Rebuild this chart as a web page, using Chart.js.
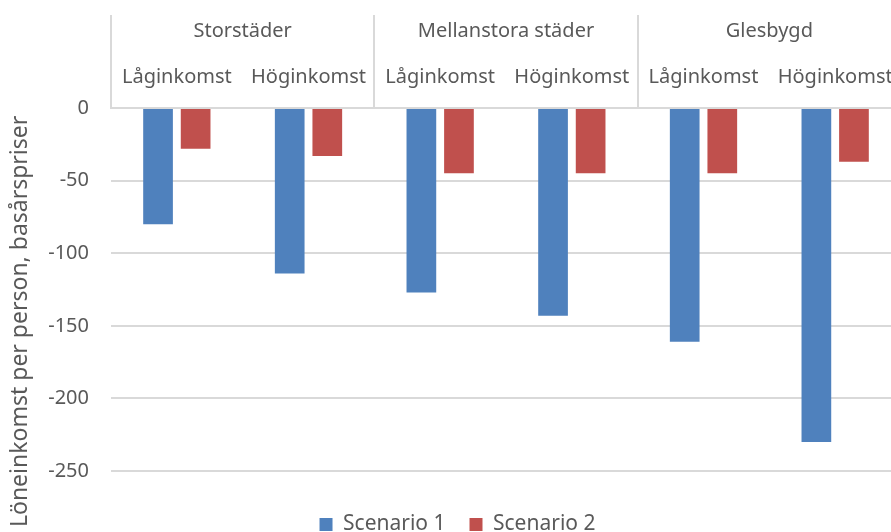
<!DOCTYPE html>
<html>
<head>
<meta charset="utf-8">
<script src="https://cdn.jsdelivr.net/npm/chart.js@4"></script>
<style>
  html, body { margin: 0; padding: 0; background: #fff; overflow: hidden; }
  #wrap { width: 901px; height: 545px; }
</style>
</head>
<body>
<div id="wrap"><canvas id="chart" width="901" height="545"></canvas></div>
<script>
/* ============================================================
   DATA
   ============================================================ */
const GROUPS     = ["Storstäder", "Mellanstora städer", "Glesbygd"];
const INCOME     = ["Låginkomst", "Höginkomst", "Låginkomst", "Höginkomst", "Låginkomst", "Höginkomst"];
const SCENARIO_1 = [-80, -114, -127, -143, -161, -230];
const SCENARIO_2 = [-28, -33, -45, -45, -45, -37];
const Y_TICKS    = { min: -250, max: 0, step: 50 };
const Y_TITLE    = "Löneinkomst per person, basårspriser";

const GRID = "#d9d9d9";
const TXT  = "#595959";

Chart.defaults.font.family = "'Noto Sans', sans-serif";
Chart.defaults.font.size = 20;
Chart.defaults.color = TXT;

/* ============================================================
   CHART
   Two category axes on top: income level (inner), region (outer)
   ============================================================ */
new Chart(document.getElementById("chart"), {
  type: "bar",
  data: {
    labels: INCOME,
    datasets: [
      { label: "Scenario 1", data: SCENARIO_1, backgroundColor: "#4F81BD", borderWidth: 0 },
      { label: "Scenario 2", data: SCENARIO_2, backgroundColor: "#C0504D", borderWidth: 0 },
    ],
  },
  options: {
    responsive: false,
    animation: false,
    categoryPercentage: 0.571,
    barPercentage: 0.79,
    // left padding nudges the centred legend right; title padding compensates
    layout: { padding: { left: 14, right: 0, top: 0, bottom: 0 } },
    plugins: {
      tooltip: { enabled: false },
      title: {
        display: true,
        position: "left",
        align: "start",
        text: "   " + Y_TITLE,
        color: TXT,
        font: { size: 23, weight: "normal" },
        padding: { top: -7.4, bottom: 0 },
      },
      legend: {
        position: "bottom",
        title: { display: true, text: "", padding: 0, font: { size: 10, lineHeight: 1.9 } },
        labels: { boxWidth: 13, boxHeight: 13, padding: 24, color: TXT, font: { size: 21 } },
      },
    },
    scales: {
      x: {
        position: "top",
        weight: 0,
        afterFit: s => { s.height = 53; },
        grid: {
          offset: true,
          drawOnChartArea: false,
          tickLength: 53,
          lineWidth: 2,
          // only draw dividers at region boundaries
          color: c => (c.type !== "tick" || c.index % 2 === 0) ? GRID : "rgba(0,0,0,0)",
        },
        border: { color: GRID, width: 2 },
        ticks: { padding: -34, maxRotation: 0, autoSkip: false },
      },
      x2: {
        type: "category",
        labels: GROUPS,
        position: "top",
        weight: 1,
        offset: true,
        afterFit: s => { s.height = 55; },
        grid: { offset: true, drawOnChartArea: false, tickLength: 40, lineWidth: 2, color: GRID },
        border: { display: false },
        ticks: { padding: -28, maxRotation: 0, autoSkip: false },
      },
      y: {
        min: Y_TICKS.min,
        max: Y_TICKS.max,
        afterFit: s => { s.width = 76.8; },
        grid: { color: GRID, lineWidth: 2, drawTicks: false },
        border: { display: false },
        ticks: { stepSize: Y_TICKS.step, padding: 22 },
      },
    },
  },
});
</script>
</body>
</html>
